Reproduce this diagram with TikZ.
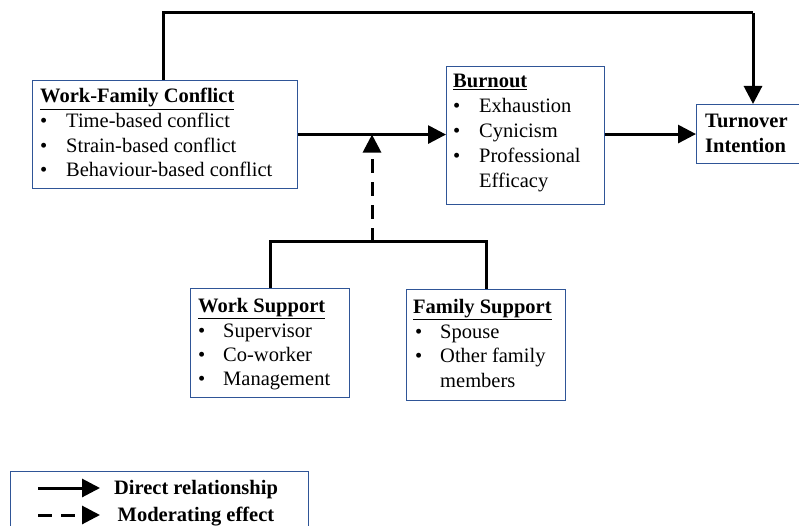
\documentclass[tikz,border=0pt]{standalone}
\usepackage{fontspec}
\setmainfont{Liberation Serif}
\usetikzlibrary{arrows.meta}
\definecolor{boxblue}{RGB}{47,85,151}
\tikzset{
  box/.style={draw=boxblue, line width=1.1pt, inner sep=0pt, anchor=north west},
  txt/.style={anchor=base west, inner sep=0pt, font=\fontsize{20.5}{24}\selectfont},
  btxt/.style={txt, font=\fontsize{20.5}{24}\selectfont\bfseries},
  conn/.style={line width=3pt},
  arr/.style={conn, -{Triangle[length=18pt,width=18pt]}},
  darr/.style={arr, dash pattern=on 14pt off 9pt},
}
\begin{document}
\begin{tikzpicture}[x=1pt,y=-1pt]
\useasboundingbox (0,0) rectangle (799,526);
% boxes
\node[box, minimum width=265pt, minimum height=108pt] (wfc) at (32,80) {};
\node[box, minimum width=158pt, minimum height=138pt] (bo) at (446,66) {};
\node[box, minimum width=110pt, minimum height=59pt] (ti) at (696,104) {};
\node[box, minimum width=159pt, minimum height=109pt] (ws) at (190,288) {};
\node[box, minimum width=159pt, minimum height=111pt] (fs) at (406,289) {};
\node[box, minimum width=298pt, minimum height=70pt] (lg) at (10,471) {};
% texts WFC
\node[btxt] (t1) at (40,103) {\underline{Work-Family Conflict}};
\node[txt] (b11) at (40,128) {•};
\node[txt] (t11) at (66,128) {Time-based conflict};
\node[txt] (b12) at (40,152.5) {•};
\node[txt] (t12) at (66,152.5) {Strain-based conflict};
\node[txt] (b13) at (40,177) {•};
\node[txt] (t13) at (66,177) {Behaviour-based conflict};
% Burnout
\node[btxt] (t2) at (453,88) {\underline{Burnout}};
\node[txt] (b21) at (453,113) {•};
\node[txt] (t21) at (479,113) {Exhaustion};
\node[txt] (b22) at (453,138) {•};
\node[txt] (t22) at (479,138) {Cynicism};
\node[txt] (b23) at (453,163) {•};
\node[txt] (t23) at (479,163) {Professional};
\node[txt] (t24) at (479,188) {Efficacy};
% Turnover
\node[btxt] (t3) at (705,128) {Turnover};
\node[btxt] (t31) at (705,152.5) {Intention};
% Work support
\node[btxt] (t4) at (198,312) {\underline{Work Support}};
\node[txt] (b41) at (198,337) {•};
\node[txt] (t41) at (223,337) {Supervisor};
\node[txt] (b42) at (198,361) {•};
\node[txt] (t42) at (223,361) {Co-worker};
\node[txt] (b43) at (198,385) {•};
\node[txt] (t43) at (223,385) {Management};
% Family support
\node[btxt] (t5) at (413,313) {\underline{Family Support}};
\node[txt] (b51) at (415,338) {•};
\node[txt] (t51) at (440,338) {Spouse};
\node[txt] (b52) at (415,362) {•};
\node[txt] (t52) at (440,362) {Other family};
\node[txt] (t53) at (440,387) {members};
% legend
\node[btxt, anchor=base] (l1) at (196,494) {Direct relationship};
\node[btxt, anchor=base] (l2) at (196,521) {Moderating effect};
\coordinate (la1) at (38,488);
\coordinate (la2) at (100,488);
\coordinate (lb1) at (38,515);
\coordinate (lb2) at (100,515);
\draw[arr] (la1) -- (la2);
\draw[darr] (lb1) -- (lb2);
% connectors
\coordinate (ts) at (163,13);
\coordinate (tr) at (753,13);
\draw[conn] (wfc.north -| ts) -- (ts) -- (tr);
\draw[arr] (tr) -- (tr |- ti.north);
\draw[arr] (wfc.east) -- (bo.west |- wfc.east);
\draw[arr] (bo.east |- ti.west) -- (ti.west);
\coordinate (mj) at (372,242);
\draw[darr] (mj) -- (mj |- wfc.east);
\draw[conn] (ws.north) -- (ws.north |- mj) -- (fs.north |- mj) -- (fs.north);
\end{tikzpicture}
\end{document}
